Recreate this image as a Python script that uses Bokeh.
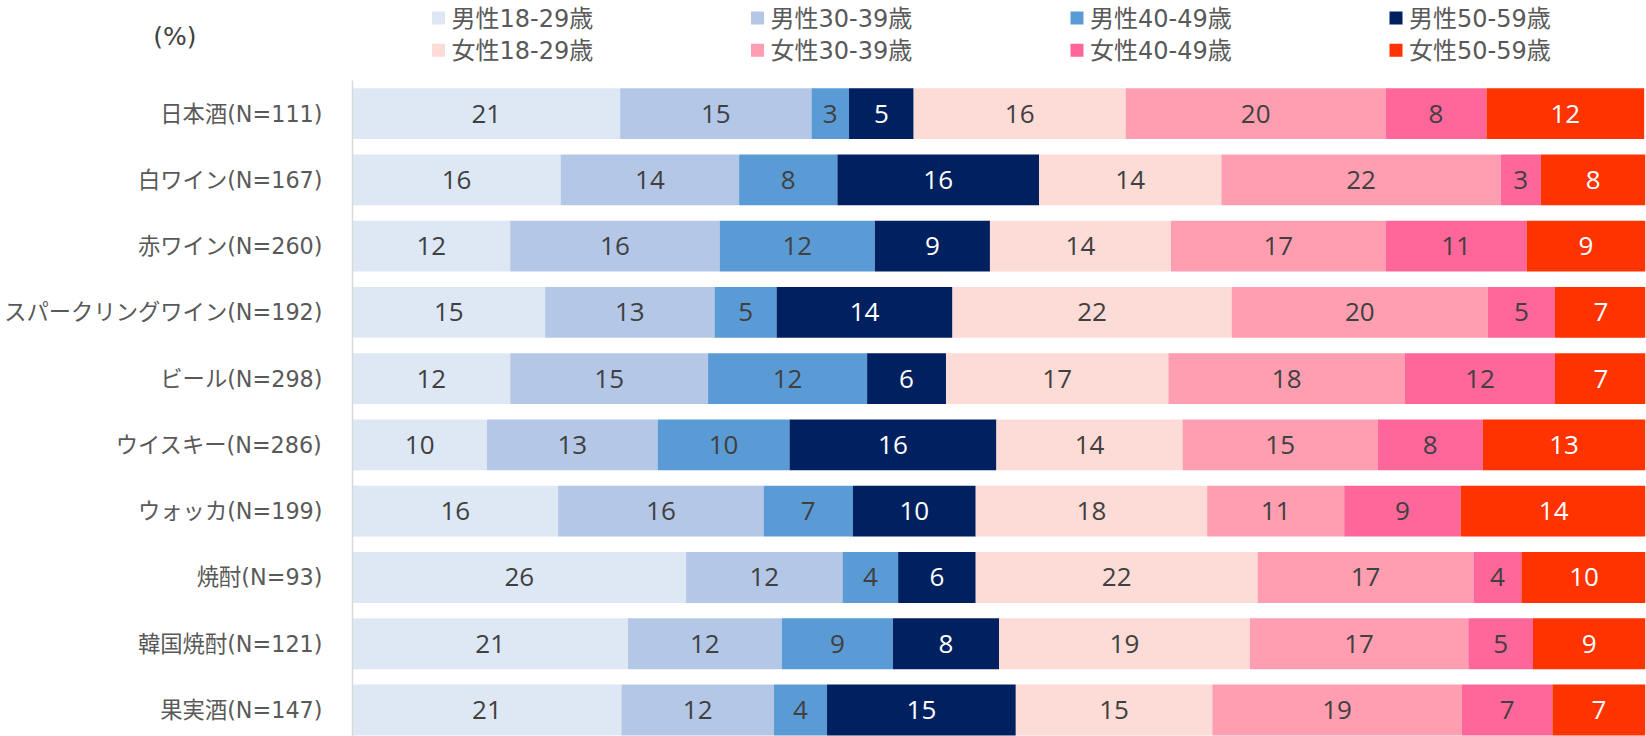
from bokeh.plotting import figure
from bokeh.models import ColumnDataSource, Range1d, FixedTicker
from bokeh.layouts import column
from bokeh.core.properties import value
from bokeh.embed import file_html
from bokeh.resources import INLINE

categories = ["日本酒(N=111)", "白ワイン(N=167)", "赤ワイン(N=260)", "スパークリングワイン(N=192)",
              "ビール(N=298)", "ウイスキー(N=286)", "ウォッカ(N=199)", "焼酎(N=93)",
              "韓国焼酎(N=121)", "果実酒(N=147)"]
series_names = ["男性18-29歳", "男性30-39歳", "男性40-49歳", "男性50-59歳",
                "女性18-29歳", "女性30-39歳", "女性40-49歳", "女性50-59歳"]
series_keys = ["m18", "m30", "m40", "m50", "f18", "f30", "f40", "f50"]
colors = ["#DEE8F5", "#B4C7E7", "#5B9BD5", "#002060",
          "#FDDBD7", "#FF9EB1", "#FF6699", "#FF3300"]
label_colors = ["#404040", "#404040", "#404040", "#FFFFFF",
                "#404040", "#404040", "#404040", "#FFFFFF"]
unit_label = "(%)"

m18 = [20.7, 16.1, 12.2, 14.9, 12.2, 10.4, 15.9, 25.8, 21.3, 20.8]
m30 = [14.8, 13.8, 16.2, 13.1, 15.3, 13.2, 15.9, 12.1, 11.9, 11.8]
m40 = [2.9, 7.6, 12.0, 4.8, 12.3, 10.2, 6.9, 4.3, 8.6, 4.1]
m50 = [5.0, 15.6, 8.9, 13.6, 6.1, 16.0, 9.5, 6.0, 8.2, 14.6]
f18 = [16.4, 14.1, 14.0, 21.6, 17.2, 14.4, 17.9, 21.8, 19.4, 15.2]
f30 = [20.1, 21.6, 16.6, 19.8, 18.3, 15.1, 10.6, 16.7, 16.9, 19.3]
f40 = [7.8, 3.1, 10.9, 5.2, 11.6, 8.1, 9.0, 3.7, 5.0, 7.0]
f50 = [12.2, 8.1, 9.2, 7.1, 7.1, 12.6, 14.4, 9.7, 8.7, 7.2]

CAT_FONT = "DejaVu Sans, Noto Sans CJK JP"
NUM_FONT = "Open Sans"
series = [m18, m30, m40, m50, f18, f30, f40, f50]
n = len(categories)
ypos = list(range(n))

data = {"y": ypos}
for k, s in zip(series_keys, series):
    data[k] = s
source = ColumnDataSource(data)

FIG_W = 1646
HDR_H = 80
MAIN_H = 656
FRAME_L = 352
FRAME_R = 1645

p = figure(width=FIG_W, height=MAIN_H, x_range=Range1d(0, 100),
           y_range=Range1d(n - 1 + 0.4, -0.5),
           toolbar_location=None, output_backend="svg",
           min_border_left=FRAME_L, min_border_right=FIG_W - FRAME_R, min_border_top=0,
           min_border_bottom=0)
p.hbar_stack(series_keys, y="y", height=0.767, color=colors, line_width=0, source=source)

# data labels
lx, ly, lt, lc = [], [], [], []
for i in range(n):
    cum = 0.0
    for j, s in enumerate(series):
        v = s[i]
        lx.append(cum + v / 2)
        ly.append(i)
        lt.append(str(int(round(v))))
        lc.append(label_colors[j])
        cum += v
lab_src = ColumnDataSource(dict(x=lx, y=ly, t=lt, c=lc))
p.text(x="x", y="y", text="t", text_color="c", source=lab_src,
       text_align="center", text_baseline="middle",
       text_font=value(NUM_FONT), text_font_size="26px")

p.xaxis.visible = False
p.xgrid.visible = False
p.ygrid.visible = False
p.outline_line_color = None
p.yaxis.ticker = FixedTicker(ticks=ypos)
p.yaxis.major_label_overrides = {i: c for i, c in zip(ypos, categories)}
p.yaxis.axis_line_color = "#D9D9D9"
p.yaxis.axis_line_width = 1.5
p.yaxis.major_tick_line_color = None
p.yaxis.minor_tick_line_color = None
p.yaxis.major_label_standoff = 24
p.yaxis.major_label_text_font = CAT_FONT
p.yaxis.major_label_text_font_size = "22.3px"
p.yaxis.major_label_text_color = "#595959"

# header figure: legend + unit label; frame aligned with the main frame,
# ranges expressed in page pixels
hdr = figure(width=FIG_W, height=HDR_H, x_range=Range1d(FRAME_L, FRAME_R), y_range=Range1d(HDR_H, 0),
             toolbar_location=None, output_backend="svg",
             min_border_left=FRAME_L, min_border_right=FIG_W - FRAME_R,
             min_border_top=0, min_border_bottom=0)
hdr.xaxis.visible = False
hdr.grid.visible = False
hdr.outline_line_color = None
hdr.yaxis.ticker = FixedTicker(ticks=[35.5])
hdr.yaxis.major_label_overrides = {35.5: unit_label}
hdr.yaxis.axis_line_color = None
hdr.yaxis.major_tick_line_color = None
hdr.yaxis.minor_tick_line_color = None
hdr.yaxis.major_label_standoff = 150
hdr.yaxis.major_label_text_font = CAT_FONT
hdr.yaxis.major_label_text_font_size = "25px"
hdr.yaxis.major_label_text_color = "#404040"

col_x = [431.5, 750.5, 1070, 1389]
row_y = [18.3, 50.5]
sq_x, sq_y, tx, ty = [], [], [], []
for j in range(len(series_names)):
    r, c = divmod(j, 4)
    sq_x.append(col_x[c] + 6.5)
    sq_y.append(row_y[r] - 0.8)
    tx.append(col_x[c] + 19.5)
    ty.append(row_y[r])
hdr.rect(x=sq_x, y=sq_y, width=13, height=13, fill_color=colors, line_width=0)
hdr.text(x=tx, y=ty, text=series_names, text_color="#595959", text_align="left",
         text_baseline="middle", text_font=value(CAT_FONT), text_font_size="24px")

layout = column(hdr, p, spacing=0)
open("out.html", "w").write(file_html(layout, INLINE))
